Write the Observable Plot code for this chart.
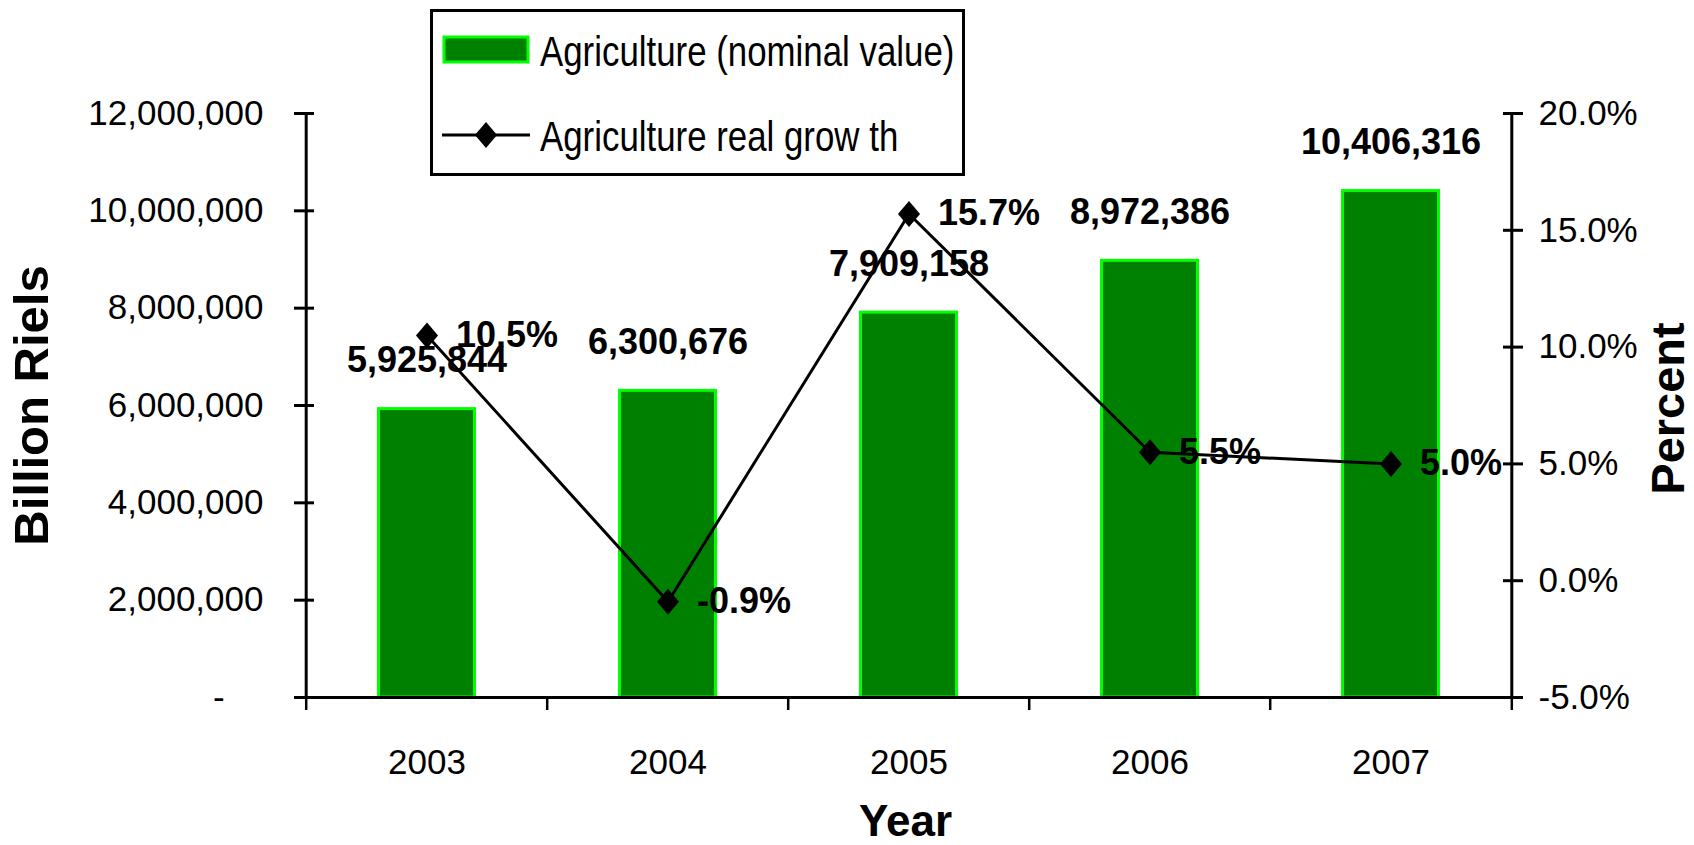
<!DOCTYPE html>
<html><head><meta charset="utf-8">
<script src="https://cdn.jsdelivr.net/npm/d3@7"></script>
<script src="https://cdn.jsdelivr.net/npm/@observablehq/plot@0.6"></script>
<style>
html,body{margin:0;padding:0;background:#fff;}
#wrap{position:relative;width:1694px;height:845px;overflow:hidden;}
#wrap svg text{font-family:"Liberation Sans",Arial,sans-serif;}
#legend{position:absolute;left:430px;top:9px;}
</style></head><body>
<div id="wrap"></div>
<script>
// ---- data ----
const years = ["2003", "2004", "2005", "2006", "2007"];
const nominalValue = [5925844, 6300676, 7909158, 8972386, 10406316];
const realGrowth = [10.5, -0.9, 15.7, 5.5, 5.0];
const leftTicks = [0, 2000000, 4000000, 6000000, 8000000, 10000000, 12000000];
const rightTicks = [-5, 0, 5, 10, 15, 20];
const seriesNames = ["Agriculture (nominal value)", "Agriculture real grow th"];
const leftTitle = "Billion Riels";
const rightTitle = "Percent";
const xTitle = "Year";

// ---- layout ----
const W = 1694, H = 845;
const mL = 304, mR = 182, mT = 113, mB = 148;
const bw = (W - mL - mR) / years.length;
const yMax = 12000000, pMin = -5, pMax = 20;
const pctToY = p => (p - pMin) / (pMax - pMin) * yMax;

const bars = years.map((y, i) => ({year: y, value: nominalValue[i]}));
const growth = years.map((y, i) => ({year: y, pct: realGrowth[i], yv: pctToY(realGrowth[i])}));

const fmt = d3.format(",");
const leftFmt = d => d === 0 ? "-\u00a0\u00a0\u00a0\u00a0" : fmt(d);
const rightMap = new Map(rightTicks.map(p => [pctToY(p), p.toFixed(1) + "%"]));

const diamond = {draw(ctx, size) {
  const r = Math.sqrt(size / Math.PI), w = r * 0.85;
  ctx.moveTo(0, -r); ctx.lineTo(w, 0); ctx.lineTo(0, r); ctx.lineTo(-w, 0); ctx.closePath();
}};

const GREEN = "#008000", LIME = "#00ff00";

const chart = Plot.plot({
  width: W, height: H,
  marginLeft: mL, marginRight: mR, marginTop: mT, marginBottom: mB,
  x: {type: "band", domain: years, padding: 0, label: null},
  y: {domain: [0, yMax], label: null},
  style: {fontFamily: "Liberation Sans, Arial, sans-serif", color: "#000", background: "#fff", overflow: "visible"},
  marks: [
    Plot.barY(bars, {x: "year", y: "value", fill: GREEN, stroke: LIME, strokeWidth: 3, insetLeft: bw * 0.3, insetRight: bw * 0.3}),
    Plot.text(bars, {x: "year", y: "value", text: d => fmt(d.value), dy: -37, lineAnchor: "bottom", fontSize: 36, fontWeight: "bold", fill: "#000"}),
    Plot.ruleY([0], {strokeWidth: 3}),
    Plot.ruleX([years[0]], {dx: -bw / 2, strokeWidth: 3}),
    Plot.ruleX([years[years.length - 1]], {dx: bw / 2, strokeWidth: 3}),
    Plot.axisX(years, {tickSize: 13, fill: "none", dx: -bw / 2, strokeWidth: 2.5, label: null}),
    Plot.axisX([years[years.length - 1]], {tickSize: 13, fill: "none", dx: bw / 2, strokeWidth: 2.5, label: null}),
    Plot.axisX(years, {tickSize: 0, tickPadding: 52, fontSize: 35, label: null}),
    Plot.axisY(leftTicks, {tickSize: 20, dx: 10, fill: "none", strokeWidth: 3, label: null}),
    Plot.axisY(leftTicks, {tickSize: 0, tickPadding: 41, tickFormat: leftFmt, fontSize: 35, label: null}),
    Plot.axisY(rightTicks.map(pctToY), {anchor: "right", tickSize: 20, dx: -10, fill: "none", strokeWidth: 3, label: null}),
    Plot.axisY(rightTicks.map(pctToY), {anchor: "right", tickSize: 0, tickPadding: 26, tickFormat: d => rightMap.get(d), fontSize: 35, label: null}),
    Plot.line(growth, {x: "year", y: "yv", stroke: "#000", strokeWidth: 3}),
    Plot.dot(growth, {x: "year", y: "yv", symbol: diamond, r: 13, fill: "#000"}),
    Plot.text(growth, {x: "year", y: "yv", text: d => d.pct.toFixed(1) + "%", textAnchor: "start", dx: 29, lineAnchor: "middle", fontSize: 36, fontWeight: "bold", fill: "#000"}),
    Plot.text([leftTitle], {frameAnchor: "left", textAnchor: "middle", rotate: -90, dx: -272, fontSize: 49, fontWeight: "bold", fill: "#000"}),
    Plot.text([rightTitle], {frameAnchor: "right", textAnchor: "middle", rotate: -90, dx: 156, dy: 3, fontSize: 47, fontWeight: "bold", fill: "#000"}),
    Plot.text([xTitle], {frameAnchor: "bottom", textAnchor: "middle", lineAnchor: "bottom", dy: 138, dx: -3, fontSize: 44, fontWeight: "bold", fill: "#000"})
  ]
});
document.getElementById("wrap").appendChild(chart);

// ---- legend (overlaid, as in the reference) ----
const leg = d3.create("svg").attr("id", "legend").attr("width", 535).attr("height", 167);
leg.append("rect").attr("x", 1.5).attr("y", 1.5).attr("width", 532).attr("height", 164)
  .attr("fill", "#fff").attr("stroke", "#000").attr("stroke-width", 3);
leg.append("rect").attr("x", 14).attr("y", 28).attr("width", 84).attr("height", 25)
  .attr("fill", GREEN).attr("stroke", LIME).attr("stroke-width", 3);
leg.append("line").attr("x1", 12).attr("x2", 100).attr("y1", 126).attr("y2", 126)
  .attr("stroke", "#000").attr("stroke-width", 3);
leg.append("path").attr("transform", "translate(56,126)")
  .attr("d", d3.symbol(diamond, Math.PI * 13 * 13)()).attr("fill", "#000");
[[57, seriesNames[0]], [142, seriesNames[1]]].forEach(([y, t]) => {
  leg.append("text").attr("transform", `translate(110,${y}) scale(0.85,1.05)`)
    .attr("font-size", 41).attr("fill", "#000").text(t);
});
document.getElementById("wrap").appendChild(leg.node());
</script>
</body></html>
